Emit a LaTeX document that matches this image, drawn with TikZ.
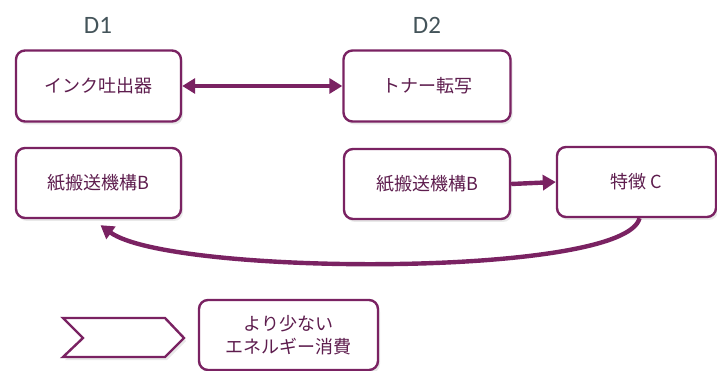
\documentclass[tikz,border=0pt]{standalone}
\usepackage{fontspec}
\newfontfamily\jp{Noto Sans CJK JP}
\newfontfamily\lat{Carlito}
\usetikzlibrary{arrows.meta,shadows}
\definecolor{plum}{HTML}{7A2262}
\definecolor{txtplum}{HTML}{5E1D4E}
\definecolor{slate}{HTML}{44545A}
\tikzset{
  box/.style={draw=plum, line width=2.4pt, rounded corners=9pt, fill=white,
    drop shadow={shadow xshift=2pt, shadow yshift=-3pt, fill=black!25, opacity=0.35},
    inner sep=0pt, font=\jp\fontsize{18}{23}\selectfont, text=txtplum, align=center},
  hdr/.style={font=\lat\fontsize{25}{28}\selectfont, text=slate},
  tip/.style={-{Triangle[length=13pt,width=15pt]}},
  conn/.style={draw=plum, line width=4.4pt, tip},
}
\begin{document}
\begin{tikzpicture}[x=1pt,y=-1pt]
\useasboundingbox (0,0) rectangle (717,371);
\node[hdr] (d1) at (98,25) {D1};
\node[hdr] (d2) at (427,25) {D2};
\node[box, minimum width=165pt, minimum height=71pt] (b1) at (98.5,86) {インク吐出器};
\node[box, minimum width=167pt, minimum height=71pt] (b2) at (427,86) {トナー転写};
\node[box, minimum width=165pt, minimum height=70pt] (b3) at (98.5,183) {紙搬送機構B};
\node[box, minimum width=166pt, minimum height=70pt] (b4) at (427,184) {紙搬送機構B};
\node[box, minimum width=159pt, minimum height=70pt] (b5) at (636.5,182) {特徴 C};
\node[box, minimum width=179pt, minimum height=70pt] (b6) at (288.5,335) {より少ない\\エネルギー消費};
\draw[draw=plum, line width=4.4pt, {Triangle[length=13pt,width=15pt]}-{Triangle[length=13pt,width=15pt]}] (b1.east) -- (b2.west);
\draw[conn] (b4.east) -- (b5.west);
\coordinate (cs) at ([xshift=3pt]b5.south);
\coordinate (ce) at ([xshift=2pt,yshift=-6pt]b3.south);
\draw[conn] (cs) .. controls (625,278) and (170,276) .. (ce);
\path[draw=plum, line width=2.4pt, line join=miter, fill=white,
  drop shadow={shadow xshift=2pt, shadow yshift=-3pt, fill=black!25, opacity=0.35}]
  (63,318) -- (165,318) -- (184,338) -- (165,357) -- (63,357) -- (83,338) -- cycle;
\end{tikzpicture}
\end{document}
